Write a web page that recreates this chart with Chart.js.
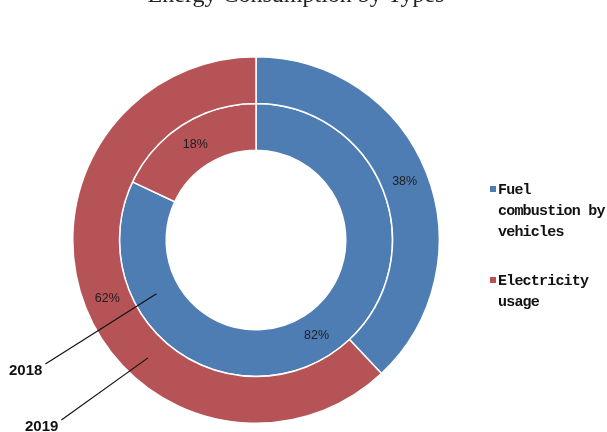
<!DOCTYPE html>
<html>
<head>
<meta charset="utf-8">
<script src="https://cdn.jsdelivr.net/npm/chart.js@4.4.1/dist/chart.umd.min.js"></script>
<style>
    html, body { margin: 0; padding: 0; background: #fff; }
    #wrap { position: relative; width: 607px; height: 432px; overflow: hidden; }
    #energyChart { position: absolute; left: 0; top: 0; }
    #title {
        position: absolute; left: 0; top: -18px; width: 592px;
        text-align: center; font: 24px/24px "Liberation Serif", serif; color: #222;
    }
    #legend {
        position: absolute; left: 498px; top: 180px; width: 112px;
        font: bold 15px/21px "Liberation Mono", monospace; letter-spacing: -0.8px; color: #111;
    }
    #legend .item { position: relative; margin-bottom: 28px; }
    #legend .box { position: absolute; left: -8px; top: 6px; width: 6px; height: 6px; }
</style>
</head>
<body>
<div id="wrap">
    <canvas id="energyChart" width="607" height="432"></canvas>
    <div id="title">Energy Consumption by Types</div>
    <div id="legend"></div>
</div>
<script>
// outer ring first, inner ring second
const years = ['2019', '2018'];
const categories = ['Fuel combustion by vehicles', 'Electricity usage'];
const share2019 = [38, 62];
const share2018 = [82, 18];
const colors = ['#4E7DB4', '#B65356'];

// legend
let legendHtml = '';
categories.forEach((name, i) => {
    legendHtml += `<div class="item"><span class="box" style="background:${colors[i]}"></span>${name}</div>`;
});
document.getElementById('legend').innerHTML = legendHtml;

// percentage labels in the middle of every arc
const arcLabels = {
    id: 'arcLabels',
    afterDatasetsDraw(chart) {
        const ctx = chart.ctx;
        ctx.save();
        ctx.font = '12.5px "Liberation Sans", Arial, sans-serif';
        ctx.fillStyle = '#1e1e1e';
        ctx.textAlign = 'center';
        ctx.textBaseline = 'middle';
        chart.data.datasets.forEach((ds, di) => {
            const meta = chart.getDatasetMeta(di);
            const total = ds.data.reduce((a, b) => a + b, 0);
            meta.data.forEach((arc, i) => {
                const p = arc.tooltipPosition();
                ctx.fillText(Math.round(ds.data[i] / total * 100) + '%', p.x, p.y);
            });
        });
        ctx.restore();
    }
};

// "2019" / "2018" call-outs pointing into each ring
const yearTags = {
    id: 'yearTags',
    afterDatasetsDraw(chart, args, opts) {
        const ctx = chart.ctx;
        ctx.save();
        ctx.font = 'bold 15px "Liberation Sans", Arial, sans-serif';
        ctx.fillStyle = '#111';
        ctx.strokeStyle = '#111';
        ctx.lineWidth = 1.2;
        opts.tags.forEach(tag => {
            const arc = chart.getDatasetMeta(tag.dataset).data[0];
            const r = (arc.innerRadius + arc.outerRadius) / 2;
            const a = (tag.angle - 90) * Math.PI / 180;
            const ex = arc.x + r * Math.cos(a);
            const ey = arc.y + r * Math.sin(a);
            ctx.textAlign = 'left';
            ctx.textBaseline = 'alphabetic';
            ctx.fillText(years[tag.dataset], tag.x, tag.y);
            const w = ctx.measureText(years[tag.dataset]).width;
            ctx.beginPath();
            ctx.moveTo(tag.x + w + 3, tag.y - 11);
            ctx.lineTo(ex, ey);
            ctx.stroke();
        });
        ctx.restore();
    }
};

new Chart(document.getElementById('energyChart'), {
    type: 'doughnut',
    data: {
        labels: categories,
        datasets: [
            { label: years[0], data: share2019, backgroundColor: colors, borderColor: '#ffffff', borderWidth: 1.5, hoverOffset: 0 },
            { label: years[1], data: share2018, backgroundColor: colors, borderColor: '#ffffff', borderWidth: 1.5, hoverOffset: 0 }
        ]
    },
    options: {
        responsive: false,
        animation: false,
        cutout: '49%',
        layout: { padding: { left: 72, right: 167, top: 56, bottom: 8 } },
        plugins: {
            legend: { display: false },
            title: { display: false },
            tooltip: { enabled: false },
            yearTags: {
                tags: [
                    { dataset: 1, angle: 241.6, x: 9, y: 375 },
                    { dataset: 0, angle: 222.5, x: 25, y: 431 }
                ]
            }
        }
    },
    plugins: [arcLabels, yearTags]
});
</script>
</body>
</html>
